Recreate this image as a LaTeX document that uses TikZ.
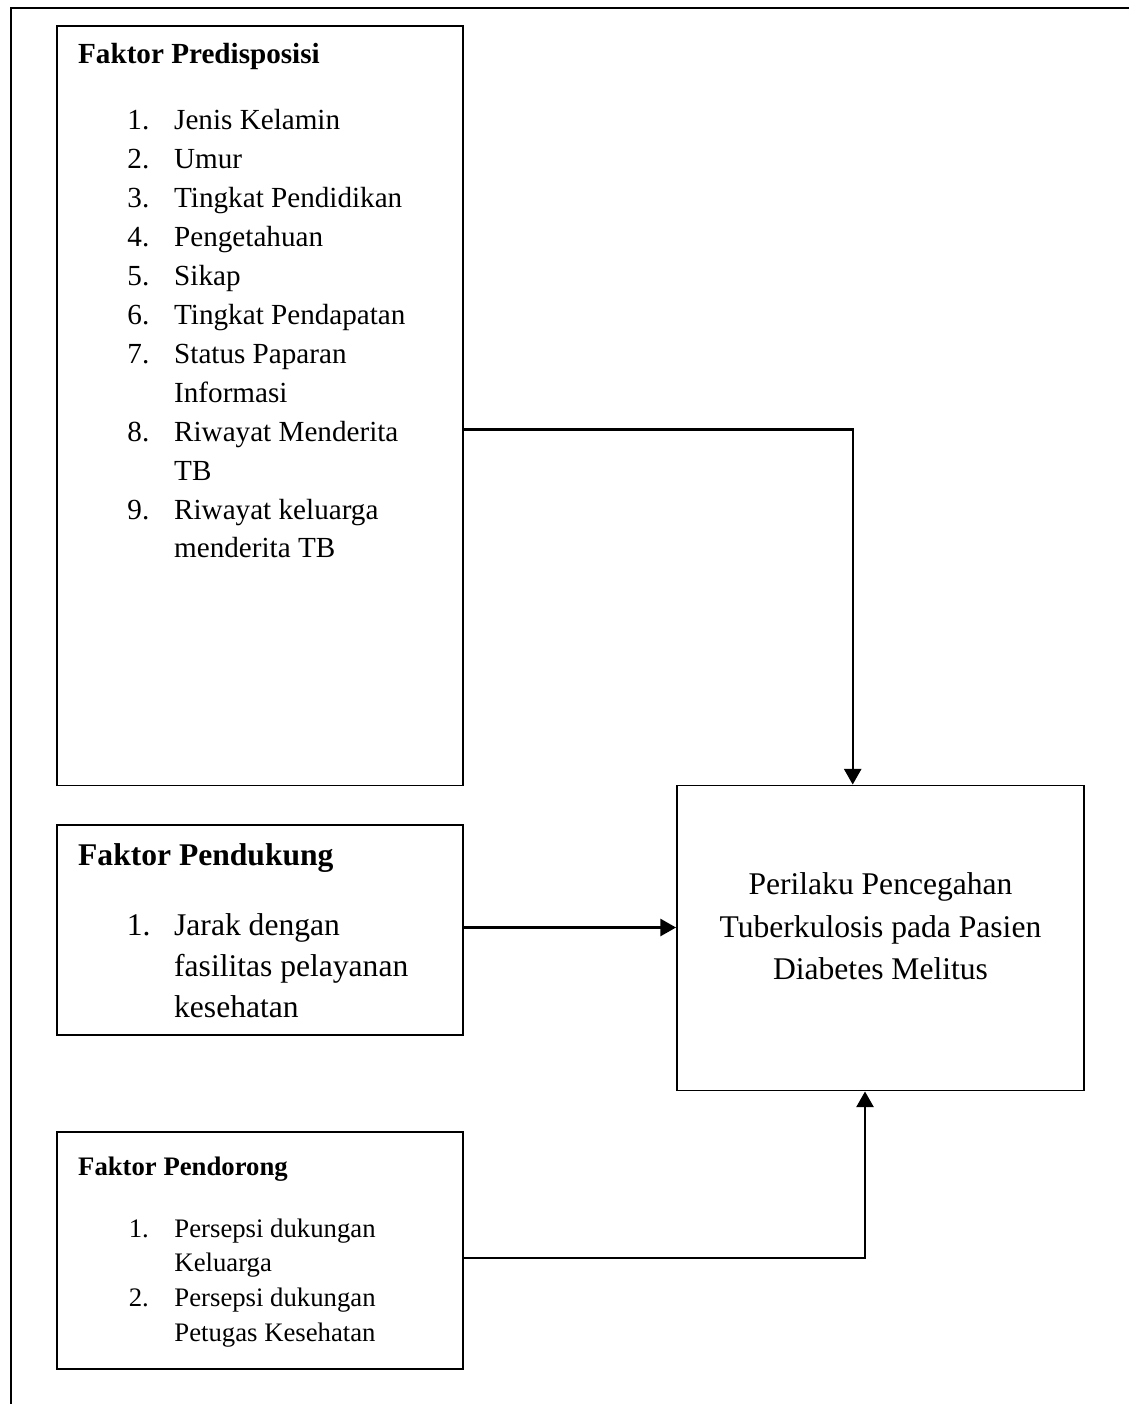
\documentclass[tikz,border=0pt]{standalone}
\usepackage{fontspec}
\setmainfont{Liberation Serif}
\usetikzlibrary{arrows.meta,fit}
\begin{document}
\begin{tikzpicture}[x=0.41166pt,y=-0.41166pt,
  box/.style={draw,line width=0.8pt,inner sep=0pt},
  frameline/.style={line width=1.2pt},
  conn/.style={line width=0.9pt},
  arr/.style={line width=0.9pt,-{Triangle[length=6.4pt,width=7pt]}},
  ta/.style={anchor=base west,inner sep=0pt,font=\fontsize{12}{14}\selectfont},
  tab/.style={ta,font=\fontsize{12}{14}\selectfont\bfseries},
  tb/.style={anchor=base west,inner sep=0pt,font=\fontsize{13}{15}\selectfont},
  tbb/.style={tb,font=\fontsize{13}{15}\selectfont\bfseries},
  tc/.style={anchor=base west,inner sep=0pt,font=\fontsize{11}{13}\selectfont},
  tcb/.style={tc,font=\fontsize{11}{13}\selectfont\bfseries},
  tt/.style={anchor=base,inner sep=0pt,font=\fontsize{13}{15}\selectfont}]
\useasboundingbox (0,0) rectangle (1128,1404);
% outer frame (right and bottom sides lie outside the page)
\draw[frameline] (1140,8) -- (11,8) -- (11,1420);

% boxes
\node[box,fit={(57,26)(463,785.5)}] (pre) {};
\node[box,fit={(57,825)(463,1035)}] (pend) {};
\node[box,fit={(57,1132)(463,1369)}] (pdr) {};
\node[box,fit={(677,785.5)(1084,1090.5)}] (target) {};

% Faktor Predisposisi
\node[tab] (preT) at (77.7,63.3) {Faktor Predisposisi};
\node[ta] (n1) at (127,130) {1.};
\node[ta] (i1) at (173.7,130) {Jenis Kelamin};
\node[ta] (n2) at (127,168.9) {2.};
\node[ta] (i2) at (173.7,168.9) {Umur};
\node[ta] (n3) at (127,207.8) {3.};
\node[ta] (i3) at (173.7,207.8) {Tingkat Pendidikan};
\node[ta] (n4) at (127,246.7) {4.};
\node[ta] (i4) at (173.7,246.7) {Pengetahuan};
\node[ta] (n5) at (127,285.6) {5.};
\node[ta] (i5) at (173.7,285.6) {Sikap};
\node[ta] (n6) at (127,324.5) {6.};
\node[ta] (i6) at (173.7,324.5) {Tingkat Pendapatan};
\node[ta] (n7) at (127,363.4) {7.};
\node[ta] (i7) at (173.7,363.4) {Status Paparan};
\node[ta] (i7b) at (173.7,402.3) {Informasi};
\node[ta] (n8) at (127,441.2) {8.};
\node[ta] (i8) at (173.7,441.2) {Riwayat Menderita};
\node[ta] (i8b) at (173.7,480.1) {TB};
\node[ta] (n9) at (127,519) {9.};
\node[ta] (i9) at (173.7,519) {Riwayat keluarga};
\node[ta] (i9b) at (173.7,557.9) {menderita TB};

% Faktor Pendukung
\node[tbb] (pendT) at (77.7,865.7) {Faktor Pendukung};
\node[tb] (m1) at (126.3,935) {1.};
\node[tb] (j1) at (173.7,935) {Jarak dengan};
\node[tb] (j1b) at (173.7,976.7) {fasilitas pelayanan};
\node[tb] (j1c) at (173.7,1017.7) {kesehatan};

% Faktor Pendorong
\node[tcb] (pdrT) at (77.7,1175) {Faktor Pendorong};
\node[tc] (k1) at (128.3,1237) {1.};
\node[tc] (d1) at (174,1237) {Persepsi dukungan};
\node[tc] (d1b) at (174,1271.7) {Keluarga};
\node[tc] (k2) at (128.3,1306.7) {2.};
\node[tc] (d2) at (174,1306.7) {Persepsi dukungan};
\node[tc] (d2b) at (174,1341.7) {Petugas Kesehatan};

% target text
\node[tt] (g1) at (880.5,894) {Perilaku Pencegahan};
\node[tt] (g2) at (880.5,937.3) {Tuberkulosis pada Pasien};
\node[tt] (g3) at (880.5,979.3) {Diabetes Melitus};

% connectors
\coordinate (y1) at (0,429.5);
\coordinate (x1) at (852.7,0);
\coordinate (y2) at (0,927.5);
\coordinate (y3) at (0,1258);
\coordinate (x3) at (865,0);
\draw[arr] (pre.east |- y1) -| (target.north -| x1);
\draw[arr] (pend.east |- y2) -- (target.west |- y2);
\draw[arr] (pdr.east |- y3) -| (target.south -| x3);
\end{tikzpicture}
\end{document}
